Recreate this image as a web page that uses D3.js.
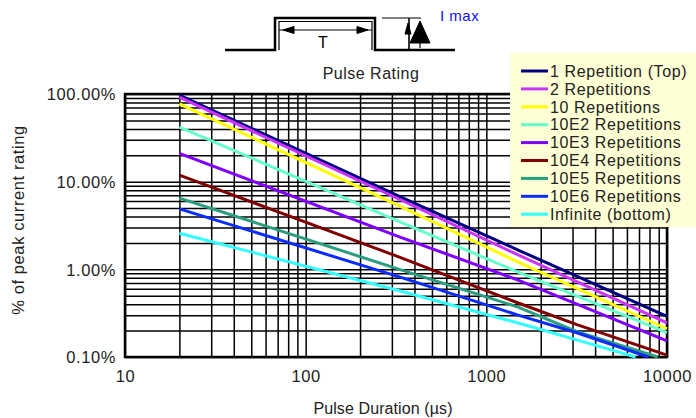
<!DOCTYPE html>
<html>
<head>
<meta charset="utf-8">
<script src="https://cdn.jsdelivr.net/npm/d3@7"></script>
<style>
	body { margin: 0; background: #fff; overflow: hidden; }
	svg { display: block; font-family: "Liberation Sans", Arial, sans-serif; }
</style>
</head>
<body>
<svg id="chart" width="696" height="418"></svg>
<script>
"use strict";

// pulse duration (us) / % of peak current
var seriesNames = ["1 Repetition (Top)", "2 Repetitions", "10 Repetitions", "10E2 Repetitions",
	"10E3 Repetitions", "10E4 Repetitions", "10E5 Repetitions", "10E6 Repetitions", "Infinite (bottom)"];
var seriesColors = ["#000080", "#cc33ff", "#ffff00", "#66ffcc", "#8000ff", "#800000", "#2a9d80", "#0a2cff", "#33ffff"];

var rep1     = [[20, 97],   [330, 6.8],  [1500, 1.66],  [10000, 0.29]];
var rep2     = [[20, 92],   [330, 6.3],  [1500, 1.46],  [10000, 0.245]];
var rep10    = [[20, 77],   [330, 5.3],  [1500, 1.21],  [10000, 0.21]];
var rep100   = [[20, 42],   [330, 3.5],  [1500, 0.93],  [10000, 0.19]];
var rep1e3   = [[20, 21],   [330, 2.35], [1500, 0.755], [10000, 0.153]];
var rep1e4   = [[20, 11.9], [330, 1.38], [1500, 0.413], [3200, 0.232], [10000, 0.105]];
var rep1e5   = [[20, 6.5],  [330, 1.0],  [1500, 0.371], [3200, 0.193], [8900, 0.1]];
var rep1e6   = [[20, 4.9],  [330, 0.82], [1500, 0.30],  [3200, 0.188], [7900, 0.1]];
var repInf   = [[20, 2.58], [330, 0.57], [1500, 0.244], [3200, 0.156], [6700, 0.1]];
var allSeries = [rep1, rep2, rep10, rep100, rep1e3, rep1e4, rep1e5, rep1e6, repInf];

var xDomain = [10, 10000];
var yDomain = [0.1, 100];

var plotL = 125, plotR = 667, plotT = 94, plotB = 357;

var svg = d3.select('#chart');
var x = d3.scaleLog().domain(xDomain).range([plotL, plotR]);
var y = d3.scaleLog().domain(yDomain).range([plotB, plotT]);

// every 1..9 x 10^k line
function logLines(lo, hi) {
	var out = [];
	for (var p = lo; p < hi; p *= 10) {
		for (var k = 1; k < 10; k++) { out.push(+(p*k).toPrecision(3)); }
	}
	out.push(hi);
	return out;
}
function isDecade(v) { return Math.abs(Math.log10(v) - Math.round(Math.log10(v))) < 1e-9; }

var gx = svg.append('g')
	.attr('transform', 'translate(0,' + plotB + ')')
	.call(d3.axisBottom(x)
		.tickValues(logLines(xDomain[0], xDomain[1]))
		.tickSize(-(plotB - plotT))
		.tickPadding(13)
		.tickFormat(function(d){ return isDecade(d) ? d3.format('d')(d) : ''; }));

var gy = svg.append('g')
	.attr('transform', 'translate(' + plotL + ',0)')
	.call(d3.axisLeft(y)
		.tickValues(logLines(yDomain[0], yDomain[1]))
		.tickSize(-(plotR - plotL))
		.tickPadding(9)
		.tickFormat(function(d){ return isDecade(d) ? d3.format('.2f')(d) + '%' : ''; }));

[gx, gy].forEach(function(g){
	g.select('.domain').remove();
	g.selectAll('.tick line').attr('stroke', '#000').attr('stroke-width', 1.5);
	g.selectAll('.tick text')
		.attr('fill', '#222')
		.style('font-size', '16.5px')
		.style('letter-spacing', '0.6px')
		.style('font-family', '"Liberation Sans", Arial, sans-serif');
});
gy.selectAll('.tick text').attr('dy', '0.35em');

// plot frame
svg.append('rect')
	.attr('x', plotL).attr('y', plotT)
	.attr('width', plotR - plotL).attr('height', plotB - plotT)
	.attr('fill', 'none').attr('stroke', '#000').attr('stroke-width', 2.5);

var line = d3.line()
	.x(function(d){ return x(d[0]); })
	.y(function(d){ return y(d[1]); });

svg.append('g').selectAll('path')
	.data(allSeries)
	.enter().append('path')
	.attr('d', line)
	.attr('fill', 'none')
	.attr('stroke', function(d, i){ return seriesColors[i]; })
	.attr('stroke-width', 3);

// axis titles
svg.append('text')
	.attr('x', 383).attr('y', 414)
	.attr('text-anchor', 'middle')
	.attr('fill', '#222')
	.style('font-size', '16px').style('letter-spacing', '0.1px')
	.text('Pulse Duration (\u00b5s)');

svg.append('text')
	.attr('transform', 'translate(24,220) rotate(-90)')
	.attr('text-anchor', 'middle')
	.attr('fill', '#222')
	.style('font-size', '16.5px').style('letter-spacing', '0.6px')
	.text('% of peak current rating');

// pulse sketch above the chart
var pulse = svg.append('g').attr('fill', 'none').attr('stroke', '#000');
pulse.append('path').attr('d', 'M225,50H275V18H375V50H455').attr('stroke-width', 2.5);
pulse.append('path').attr('d', 'M279,50V21.5H372V50').attr('stroke-width', 1.2);
pulse.append('path').attr('d', 'M279,30H372').attr('stroke-width', 1.2);
pulse.append('path').attr('d', 'M283,30L294,26.5L294,33.5Z').attr('fill', '#000');
pulse.append('path').attr('d', 'M368,30L357,26.5L357,33.5Z').attr('fill', '#000');
pulse.append('path').attr('d', 'M382,18H421').attr('stroke-width', 1.2);
pulse.append('path').attr('d', 'M409,18V50').attr('stroke-width', 1.6);
pulse.append('path').attr('d', 'M408,23L405,34L411,34Z').attr('fill', '#000');
pulse.append('path').attr('d', 'M420,21L410,43L430,43Z').attr('fill', '#000');
pulse.append('path').attr('d', 'M420,43V48').attr('stroke-width', 1.2);

svg.append('text')
	.attr('x', 323).attr('y', 48)
	.attr('text-anchor', 'middle')
	.style('font-size', '16px')
	.text('T');

svg.append('text')
	.attr('x', 440).attr('y', 21)
	.attr('fill', '#1010ee')
	.style('font-size', '15px').style('letter-spacing', '0.5px')
	.text('I max');

svg.append('text')
	.attr('x', 371).attr('y', 79)
	.attr('text-anchor', 'middle')
	.attr('fill', '#222')
	.style('font-size', '16px').style('letter-spacing', '0.5px')
	.text('Pulse Rating');

// legend box sits over the top right of the grid
var legend = svg.append('g');
legend.append('rect')
	.attr('x', 510).attr('y', 53)
	.attr('width', 200).attr('height', 174)
	.attr('fill', '#ffffd5');

var rows = legend.selectAll('g.row')
	.data(seriesNames)
	.enter().append('g')
	.attr('class', 'row')
	.attr('transform', function(d, i){ return 'translate(0,' + (71 + i*17.9) + ')'; });

rows.append('line')
	.attr('x1', 521).attr('x2', 548)
	.attr('stroke', function(d, i){ return seriesColors[i]; })
	.attr('stroke-width', 3);

rows.append('text')
	.attr('x', 550).attr('dy', '0.36em')
	.attr('fill', '#222')
	.style('font-size', '16px').style('letter-spacing', '0.6px')
	.text(function(d){ return d; });
</script>
</body>
</html>
